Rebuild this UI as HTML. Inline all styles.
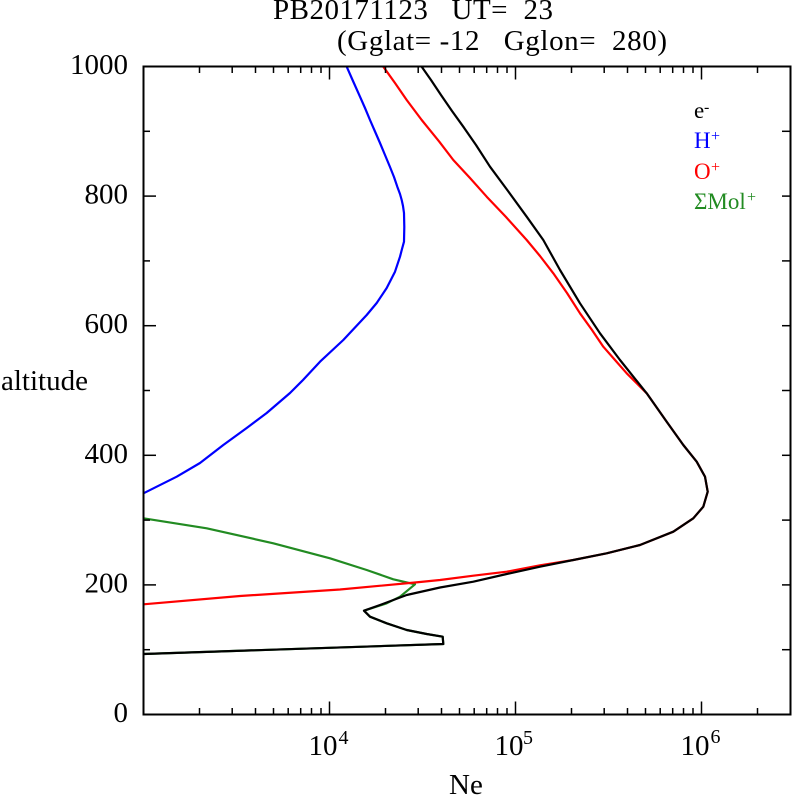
<!DOCTYPE html>
<html>
<head>
<meta charset="utf-8">
<style>
  html, body { margin:0; padding:0; background:#fff; }
  svg { display:block; }
  text { font-family: "Liberation Serif", "DejaVu Serif", serif; }
</style>
</head>
<body>
<svg width="792" height="795" viewBox="0 0 792 795" xmlns="http://www.w3.org/2000/svg">
  <rect x="0" y="0" width="792" height="795" fill="#fff"/>

  <!-- Title -->
  <text x="273" y="19" font-size="29" textLength="280" lengthAdjust="spacing" style="white-space:pre">PB20171123   UT=  23</text>
  <text x="337" y="50" font-size="29" textLength="330" lengthAdjust="spacing" style="white-space:pre">(Gglat= -12   Gglon=  280)</text>

  <!-- Curves -->
  <g fill="none" stroke-width="2.2" stroke-linejoin="round">
    <!-- H+ blue -->
    <polyline stroke="#0000ff" points="346.7,66.7 353,81 360,96.7 365,108 370,120 375,131.5 380,143 385,155 390,167 394,177 397.3,186.7 400,194 401.7,200 403,206 404,213 404.3,227 404,241.7 402,249 400,256.7 395,271.7 386.7,288 376.7,303 366.7,315 355,327.5 343.3,340 320,361.7 303,380 290,393 266.7,413 246.7,428 223.3,445 200,463 176.7,476.7 156.7,486.7 143.5,493.3"/>
    <!-- Mol+ green -->
    <polyline stroke="#228B22" points="143.5,518.3 206.7,528.3 273.3,543.3 330,558.3 366.7,570 393.3,579.3 415,584.3 400,596.7 386.7,603.3 364,610.7 370,616.7 386.7,623.3 406.7,630 426.7,634 442.7,636.7 443.3,644 143.5,654"/>
    <!-- O+ red -->
    <polyline stroke="#ff0000" points="383.3,66.7 395,83 406.7,100 421.7,120 439.3,141.7 453.3,160 470,178 486.7,196.7 506,217 526.7,240 540,256 553.3,273.3 567,293 580,313.3 592,330 603.3,346.7 615,360 626.7,373.3 646.7,393.3 666.7,421.7 683.3,445 696.7,461.7 705,476.7 707.7,491.7 703.3,506.7 693.3,518.3 673.3,531.7 640,545 606.7,553.3 573.3,560 540,565.3 506.7,571.7 473.3,575.7 440,580 415,582.5 340,589.5 240,596 143.5,604.3"/>
    <!-- e- black -->
    <polyline stroke="#000000" points="421.7,66.7 431,80 441,95 452,111 463.3,126.7 476,145 490,166.7 508,191 526.7,216.7 543.3,240 560,270 580,303.3 600,333.3 620,360 646.7,393.3 666.7,421.7 683.3,445 696.7,461.7 705,476.7 707.7,491.7 703.3,506.7 693.3,518.3 673.3,531.7 640,545 606.7,553.3 573.3,560 540,566.7 506.7,574 473.3,581.7 440,587.5 406.7,595 380,605 364,610.7 370,616.7 386.7,623.3 406.7,630 426.7,634 442.7,636.7 443.3,644 143.5,654"/>
  </g>

  <!-- Frame -->
  <rect x="143.5" y="66.5" width="647" height="648" fill="none" stroke="#000" stroke-width="2"/>

  <!-- Ticks -->
  <g stroke="#000" stroke-width="1.5">
    <line x1="143.5" y1="584.9" x2="156" y2="584.9"/>
    <line x1="143.5" y1="455.3" x2="156" y2="455.3"/>
    <line x1="143.5" y1="325.7" x2="156" y2="325.7"/>
    <line x1="143.5" y1="196.1" x2="156" y2="196.1"/>
    <line x1="143.5" y1="649.7" x2="150" y2="649.7"/>
    <line x1="143.5" y1="520.1" x2="150" y2="520.1"/>
    <line x1="143.5" y1="390.5" x2="150" y2="390.5"/>
    <line x1="143.5" y1="260.9" x2="150" y2="260.9"/>
    <line x1="143.5" y1="131.3" x2="150" y2="131.3"/>
    <line x1="782" y1="649.7" x2="790.5" y2="649.7"/>
    <line x1="782" y1="584.9" x2="790.5" y2="584.9"/>
    <line x1="782" y1="520.1" x2="790.5" y2="520.1"/>
    <line x1="782" y1="455.3" x2="790.5" y2="455.3"/>
    <line x1="782" y1="390.5" x2="790.5" y2="390.5"/>
    <line x1="782" y1="325.7" x2="790.5" y2="325.7"/>
    <line x1="782" y1="260.9" x2="790.5" y2="260.9"/>
    <line x1="782" y1="196.1" x2="790.5" y2="196.1"/>
    <line x1="782" y1="131.3" x2="790.5" y2="131.3"/>

    <line x1="329.5" y1="714.5" x2="329.5" y2="701.5"/>
    <line x1="515.5" y1="714.5" x2="515.5" y2="701.5"/>
    <line x1="701.5" y1="714.5" x2="701.5" y2="701.5"/>
    <g>
      <line x1="199.5" y1="714.5" x2="199.5" y2="708"/>
      <line x1="232.2" y1="714.5" x2="232.2" y2="708"/>
      <line x1="255.5" y1="714.5" x2="255.5" y2="708"/>
      <line x1="273.5" y1="714.5" x2="273.5" y2="708"/>
      <line x1="288.2" y1="714.5" x2="288.2" y2="708"/>
      <line x1="300.7" y1="714.5" x2="300.7" y2="708"/>
      <line x1="311.5" y1="714.5" x2="311.5" y2="708"/>
      <line x1="321" y1="714.5" x2="321" y2="708"/>
      <line x1="385.5" y1="714.5" x2="385.5" y2="708"/>
      <line x1="418.2" y1="714.5" x2="418.2" y2="708"/>
      <line x1="441.5" y1="714.5" x2="441.5" y2="708"/>
      <line x1="459.5" y1="714.5" x2="459.5" y2="708"/>
      <line x1="474.2" y1="714.5" x2="474.2" y2="708"/>
      <line x1="486.7" y1="714.5" x2="486.7" y2="708"/>
      <line x1="497.5" y1="714.5" x2="497.5" y2="708"/>
      <line x1="507" y1="714.5" x2="507" y2="708"/>
      <line x1="571.5" y1="714.5" x2="571.5" y2="708"/>
      <line x1="604.2" y1="714.5" x2="604.2" y2="708"/>
      <line x1="627.5" y1="714.5" x2="627.5" y2="708"/>
      <line x1="645.5" y1="714.5" x2="645.5" y2="708"/>
      <line x1="660.2" y1="714.5" x2="660.2" y2="708"/>
      <line x1="672.7" y1="714.5" x2="672.7" y2="708"/>
      <line x1="683.5" y1="714.5" x2="683.5" y2="708"/>
      <line x1="693" y1="714.5" x2="693" y2="708"/>
      <line x1="757.5" y1="714.5" x2="757.5" y2="708"/>
    </g>

    <line x1="329.5" y1="66.5" x2="329.5" y2="79.5"/>
    <line x1="515.5" y1="66.5" x2="515.5" y2="79.5"/>
    <line x1="701.5" y1="66.5" x2="701.5" y2="79.5"/>
    <g>
      <line x1="199.5" y1="66.5" x2="199.5" y2="73"/>
      <line x1="232.2" y1="66.5" x2="232.2" y2="73"/>
      <line x1="255.5" y1="66.5" x2="255.5" y2="73"/>
      <line x1="273.5" y1="66.5" x2="273.5" y2="73"/>
      <line x1="288.2" y1="66.5" x2="288.2" y2="73"/>
      <line x1="300.7" y1="66.5" x2="300.7" y2="73"/>
      <line x1="311.5" y1="66.5" x2="311.5" y2="73"/>
      <line x1="321" y1="66.5" x2="321" y2="73"/>
      <line x1="385.5" y1="66.5" x2="385.5" y2="73"/>
      <line x1="418.2" y1="66.5" x2="418.2" y2="73"/>
      <line x1="441.5" y1="66.5" x2="441.5" y2="73"/>
      <line x1="459.5" y1="66.5" x2="459.5" y2="73"/>
      <line x1="474.2" y1="66.5" x2="474.2" y2="73"/>
      <line x1="486.7" y1="66.5" x2="486.7" y2="73"/>
      <line x1="497.5" y1="66.5" x2="497.5" y2="73"/>
      <line x1="507" y1="66.5" x2="507" y2="73"/>
      <line x1="571.5" y1="66.5" x2="571.5" y2="73"/>
      <line x1="604.2" y1="66.5" x2="604.2" y2="73"/>
      <line x1="627.5" y1="66.5" x2="627.5" y2="73"/>
      <line x1="645.5" y1="66.5" x2="645.5" y2="73"/>
      <line x1="660.2" y1="66.5" x2="660.2" y2="73"/>
      <line x1="672.7" y1="66.5" x2="672.7" y2="73"/>
      <line x1="683.5" y1="66.5" x2="683.5" y2="73"/>
      <line x1="693" y1="66.5" x2="693" y2="73"/>
      <line x1="757.5" y1="66.5" x2="757.5" y2="73"/>
    </g>
  </g>

  <!-- Y tick labels -->
  <g font-size="29" text-anchor="end">
    <text x="128" y="722">0</text>
    <text x="128" y="592.4">200</text>
    <text x="128" y="462.8">400</text>
    <text x="128" y="333.2">600</text>
    <text x="128" y="203.6">800</text>
    <text x="128" y="74">1000</text>
  </g>
  <text x="1" y="390" font-size="29">altitude</text>

  <!-- X tick labels -->
  <g font-size="29">
    <text x="308.5" y="755">10</text>
    <text x="494.5" y="755">10</text>
    <text x="680.5" y="755">10</text>
  </g>
  <g font-size="20">
    <text x="338.5" y="744">4</text>
    <text x="523" y="744">5</text>
    <text x="710.5" y="743">6</text>
  </g>
  <text x="449" y="794" font-size="29">Ne</text>

  <!-- Legend -->
  <g font-size="23">
    <text x="694" y="118" fill="#000">e</text>
    <text x="704" y="112" font-size="16" fill="#000">-</text>
    <text x="694" y="148" fill="#0000ff">H</text>
    <text x="711" y="141" font-size="16" fill="#0000ff">+</text>
    <text x="694" y="179" fill="#ff0000">O</text>
    <text x="711" y="172" font-size="16" fill="#ff0000">+</text>
    <text x="694" y="209" fill="#228B22">ΣMol</text>
    <text x="747" y="202" font-size="16" fill="#228B22">+</text>
  </g>
</svg>
</body>
</html>
